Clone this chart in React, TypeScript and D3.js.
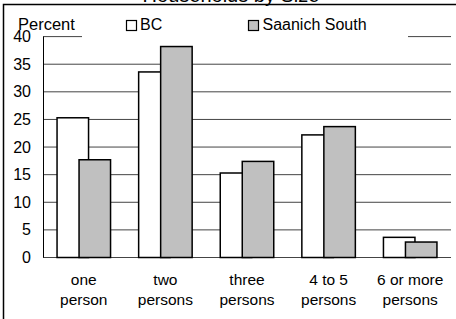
import React from 'react';
import * as d3 from 'd3';

const categories = [['one', 'person'], ['two', 'persons'], ['three', 'persons'], ['4 to 5', 'persons'], ['6 or more', 'persons']];
const bcValues = [25.3, 33.6, 15.3, 22.2, 3.65];
const saanichValues = [17.7, 38.2, 17.4, 23.7, 2.8];
const yTicks = [0, 5, 10, 15, 20, 25, 30, 35, 40];

const W = 456;
const H = 319;
const font = 'Arial, "Liberation Sans", sans-serif';

const App: React.FC = () => {
  const keys = categories.map((c) => c.join(' '));
  const x = d3.scaleBand<string>().domain(keys).range([43, 451]);
  const y = d3.scaleLinear().domain([0, 40]).range([257.5, 36.6]);
  const barW = 31.5;
  const shift = 11;

  return (
    <svg width={W} height={H} style={{ position: 'absolute', left: 0, top: 0 }} fontFamily={font}>
      <rect width={W} height={H} fill="#fff" />
      <text x={231} y={1.5} fontSize={20} textAnchor="middle" fill="#000">Households by Size</text>
      <path d={`M3.5,${H} V4.5 H${W}`} fill="none" stroke="#000" strokeWidth={1.5} />

      {yTicks.map((t) => (
        <g key={t}>
          <line x1={43} x2={451} y1={y(t)} y2={y(t)} stroke="#444" strokeWidth={1} />
          <text x={31} y={y(t) + 5.5} fontSize={16} textAnchor="end" fill="#000">{t}</text>
        </g>
      ))}
      <line x1={43.5} x2={43.5} y1={y(40)} y2={y(0)} stroke="#000" strokeWidth={1} />

      {/* legend sits over the top gridline */}
      <rect x={82} y={12} width={326} height={28} fill="#fff" />
      <text x={18} y={29.5} fontSize={16.5} fill="#000">Percent</text>
      <rect x={126.5} y={20.5} width={10} height={10} fill="#fff" stroke="#000" strokeWidth={1.2} />
      <text x={140} y={30} fontSize={16} fill="#000">BC</text>
      <rect x={248.5} y={20.5} width={10} height={10} fill="#c0c0c0" stroke="#000" strokeWidth={1.2} />
      <text x={262.5} y={30} fontSize={16} fill="#000">Saanich South</text>

      {keys.map((k, i) => {
        const c = (x(k) as number) + x.bandwidth() / 2;
        return (
          <g key={k}>
            <rect x={c - shift - barW / 2} y={y(bcValues[i])} width={barW} height={y(0) - y(bcValues[i])}
              fill="#fff" stroke="#000" strokeWidth={1.5} />
            <rect x={c + shift - barW / 2} y={y(saanichValues[i])} width={barW} height={y(0) - y(saanichValues[i])}
              fill="#c0c0c0" stroke="#000" strokeWidth={1.5} />
            <text x={c} y={284.5} fontSize={15.5} textAnchor="middle" fill="#000">{categories[i][0]}</text>
            <text x={c} y={304.5} fontSize={15.5} textAnchor="middle" fill="#000">{categories[i][1]}</text>
          </g>
        );
      })}
    </svg>
  );
};

export default App;
